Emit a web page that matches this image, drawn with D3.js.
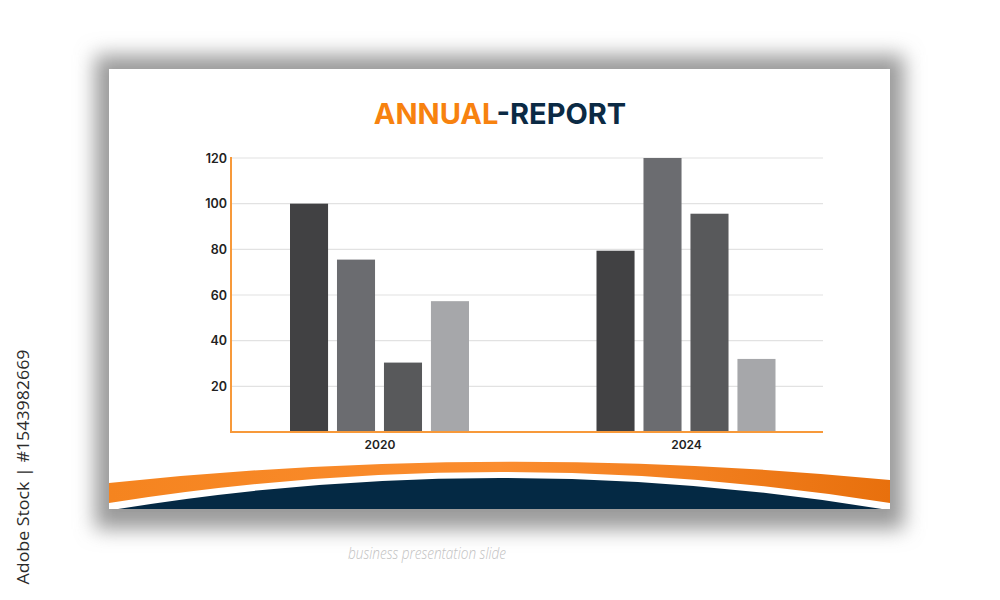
<!DOCTYPE html>
<html>
<head>
<meta charset="utf-8">
<script src="https://d3js.org/d3.v7.min.js"></script>
<style>
  html, body { margin: 0; padding: 0; background: #ffffff; }
  svg { display: block; }
</style>
</head>
<body>
<svg id="chart" width="1000" height="600"></svg>
<script>
// Chart data.
var years = ["2020", "2024"];
var seriesNames = ["A", "B", "C", "D"];
var values = {
    "2020": [100, 75.5, 30.4, 57.3],
    "2024": [79.4, 120, 95.6, 32]
};
var yTicks = [20, 40, 60, 80, 100, 120];
var barColors = ["#414143", "#6b6c70", "#58595b", "#a6a7aa"];

var svg = d3.select("#chart");

// Slide card and its soft grey frame.
var slide = {x: 109, y: 69, w: 781, h: 440};

var defs = svg.append("defs");
defs.append("filter")
    .attr("id", "frameBlur")
    .attr("x", "-10%").attr("y", "-20%")
    .attr("width", "120%").attr("height", "140%")
  .append("feGaussianBlur")
    .attr("stdDeviation", 10);

var orangeGrad = defs.append("linearGradient")
    .attr("id", "orangeGrad")
    .attr("x1", "0%").attr("x2", "100%");
orangeGrad.append("stop").attr("offset", "0%").attr("stop-color", "#f5841f");
orangeGrad.append("stop").attr("offset", "50%").attr("stop-color", "#fb8d2f");
orangeGrad.append("stop").attr("offset", "100%").attr("stop-color", "#e8700d");

// Shadow: a blurred grey box larger than the slide.
svg.append("rect")
    .attr("x", slide.x - 14)
    .attr("y", slide.y - 14)
    .attr("width", slide.w + 28)
    .attr("height", slide.h + 34)
    .attr("fill", "#9a9a9a")
    .attr("filter", "url(#frameBlur)");

svg.append("rect")
    .attr("x", slide.x)
    .attr("y", slide.y)
    .attr("width", slide.w)
    .attr("height", slide.h)
    .attr("fill", "#ffffff");

// Title.
var title = svg.append("text")
    .attr("x", 500)
    .attr("y", 124)
    .attr("text-anchor", "middle")
    .style("font-family", "Inter, 'Open Sans', sans-serif")
    .style("font-weight", 700)
    .style("font-size", "29px");
title.append("tspan").attr("fill", "#f7820f").text("ANNUAL");
title.append("tspan").attr("fill", "#0b2a44").text("-REPORT");

// Plot area.
var plot = {left: 231, right: 823, top: 157, bottom: 432};

var y = d3.scaleLinear()
    .domain([0, 120])
    .range([plot.bottom, plot.bottom - 274]);

var x = d3.scalePoint()
    .domain(years)
    .range([plot.left + 148.5, plot.left + 455]);

var xInner = d3.scaleBand()
    .domain(seriesNames)
    .range([-89.5, 89.5])
    .paddingInner(0.19);

// Gridlines.
svg.append("g")
    .selectAll("line")
    .data(yTicks)
    .enter()
    .append("line")
    .attr("x1", plot.left)
    .attr("x2", plot.right)
    .attr("y1", function(d) { return y(d); })
    .attr("y2", function(d) { return y(d); })
    .attr("stroke", "#e2e2e2")
    .attr("stroke-width", 1.2);

// Y axis labels.
var yAxis = svg.append("g")
    .attr("transform", "translate(" + plot.left + ",0)")
    .call(d3.axisLeft(y).tickValues(yTicks).tickSize(0).tickPadding(4));
yAxis.select(".domain").remove();
yAxis.selectAll("text")
    .style("font-family", "Inter, 'Open Sans', sans-serif")
    .style("font-weight", 600)
    .style("font-size", "12.5px")
    .attr("fill", "#222222");

// Bars.
var groups = svg.append("g")
    .selectAll("g")
    .data(years)
    .enter()
    .append("g")
    .attr("transform", function(d) { return "translate(" + x(d) + ",0)"; });

groups.selectAll("rect")
    .data(function(d) { return values[d]; })
    .enter()
    .append("rect")
    .attr("x", function(d, i) { return xInner(seriesNames[i]); })
    .attr("width", xInner.bandwidth())
    .attr("y", function(d) { return y(d); })
    .attr("height", function(d) { return y(0) - y(d); })
    .attr("fill", function(d, i) { return barColors[i]; });

// X axis labels.
var xAxis = svg.append("g")
    .attr("transform", "translate(0," + plot.bottom + ")")
    .call(d3.axisBottom(x).tickSize(0).tickPadding(8));
xAxis.select(".domain").remove();
xAxis.selectAll("text")
    .style("font-family", "Inter, 'Open Sans', sans-serif")
    .style("font-weight", 600)
    .style("font-size", "12px")
    .attr("fill", "#222222");

// Orange axis lines.
svg.append("path")
    .attr("d", "M" + plot.left + "," + plot.top + "V" + plot.bottom + "H" + plot.right)
    .attr("fill", "none")
    .attr("stroke", "#f7993a")
    .attr("stroke-width", 2);

// Bottom waves, built from the slide box.
var sl = slide.x, sr = slide.x + slide.w, sb = slide.y + slide.h;
var orangeBand = "M" + sl + "," + (sb - 26) +
    "Q500," + (sb - 67) + " " + sr + "," + (sb - 29) +
    "L" + sr + "," + (sb - 6) +
    "Q500," + (sb - 68) + " " + sl + "," + (sb - 6) + "Z";
svg.append("path")
    .attr("d", orangeBand)
    .attr("fill", "url(#orangeGrad)");

var navy = "M" + (sl + 9) + "," + sb +
    "Q500," + (sb - 62) + " " + (sr - 8) + "," + sb + "Z";
svg.append("path")
    .attr("d", navy)
    .attr("fill", "#042944");

// Caption and stock id.
svg.append("text")
    .attr("x", 427)
    .attr("y", 559)
    .attr("text-anchor", "middle")
    .attr("textLength", 158)
    .attr("lengthAdjust", "spacingAndGlyphs")
    .style("font-family", "'Open Sans', sans-serif")
    .style("font-style", "italic")
    .style("font-weight", 300)
    .style("font-size", "16px")
    .attr("fill", "#c2c2c2")
    .text("business presentation slide");

svg.append("text")
    .attr("transform", "translate(29,467) rotate(-90)")
    .attr("text-anchor", "middle")
    .attr("textLength", 235)
    .attr("lengthAdjust", "spacingAndGlyphs")
    .style("font-family", "'Open Sans', sans-serif")
    .style("font-size", "17px")
    .attr("fill", "#2b2b2b")
    .text("Adobe Stock | #1543982669");
</script>
</body>
</html>
